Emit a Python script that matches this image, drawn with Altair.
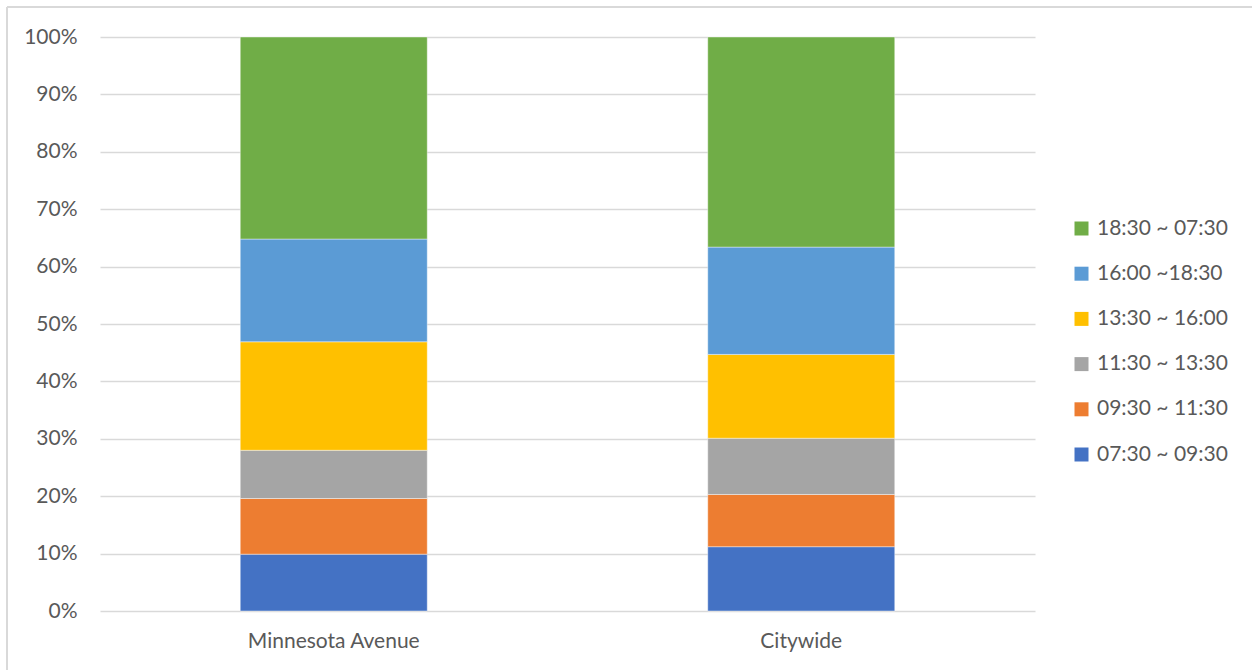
import altair as alt
import pandas as pd

# Share of trips by time-of-day period (percent)
locations = ["Minnesota Avenue", "Citywide"]
periods = [
    "07:30 ~ 09:30",
    "09:30 ~ 11:30",
    "11:30 ~ 13:30",
    "13:30 ~ 16:00",
    "16:00 ~18:30",
    "18:30 ~ 07:30",
]
minnesota_avenue = [9.9, 9.7, 8.4, 18.9, 17.9, 35.2]
citywide = [11.2, 9.1, 9.8, 14.6, 18.7, 36.6]
period_colors = ["#4472C4", "#ED7D31", "#A5A5A5", "#FFC000", "#5B9BD5", "#70AD47"]

rows = []
for loc, values in zip(locations, [minnesota_avenue, citywide]):
    for i, (p, v) in enumerate(zip(periods, values)):
        rows.append({"location": loc, "period": p, "share": v / 100.0, "rank": i})
df = pd.DataFrame(rows)

FONT = "Lato"
FONT_SIZE = 21
LABEL_COLOR = "#595959"
GRID_COLOR = "#D9D9D9"

bars = alt.Chart(df).mark_bar(stroke="white", strokeWidth=0.6, strokeOpacity=0.7).encode(
    x=alt.X(
        "location:N",
        sort=locations,
        scale=alt.Scale(paddingInner=0.6, paddingOuter=0.3),
        axis=alt.Axis(
            title=None, labelAngle=0, ticks=False, domain=False,
            labelPadding=19, labelFontSize=FONT_SIZE, labelFont=FONT, labelColor=LABEL_COLOR,
        ),
    ),
    y=alt.Y(
        "share:Q",
        stack="normalize",
        scale=alt.Scale(domain=[0, 1]),
        axis=alt.Axis(
            title=None, format=".0%", values=[i / 10 for i in range(11)],
            ticks=False, domain=False, labelPadding=23,
            labelFontSize=FONT_SIZE, labelFont=FONT, labelColor=LABEL_COLOR,
            gridColor=GRID_COLOR, gridWidth=1.3,
        ),
    ),
    color=alt.Color(
        "period:N",
        scale=alt.Scale(domain=periods, range=period_colors),
        sort=list(reversed(periods)),
        legend=alt.Legend(
            title=None, orient="none", legendX=971, legendY=181,
            symbolType="square", symbolSize=196, symbolStrokeWidth=0,
            labelFontSize=FONT_SIZE, labelFont=FONT, labelColor=LABEL_COLOR,
            rowPadding=23.2, labelOffset=5, values=list(reversed(periods)),
        ),
    ),
    order=alt.Order("rank:Q", sort="ascending"),
)

# Chart-area frame along the top and left edges
frame_top = alt.Chart(pd.DataFrame({"k": [0]})).mark_rule(color="#D9D9D9", strokeWidth=2).encode(
    x=alt.value(-93), x2=alt.value(1160), y=alt.value(-30)
)
frame_left = alt.Chart(pd.DataFrame({"k": [0]})).mark_rule(color="#D9D9D9", strokeWidth=2).encode(
    x=alt.value(-93), y=alt.value(-30), y2=alt.value(640)
)

chart = alt.layer(bars, frame_top, frame_left).properties(
    width=935,
    height=574,
    autosize=alt.AutoSizeParams(type="none"),
    padding={"left": 100, "top": 37, "right": 217, "bottom": 59},
    background="white",
).configure_view(stroke=None)

chart.save("out.html", embed_options={"renderer": "svg", "actions": False})
